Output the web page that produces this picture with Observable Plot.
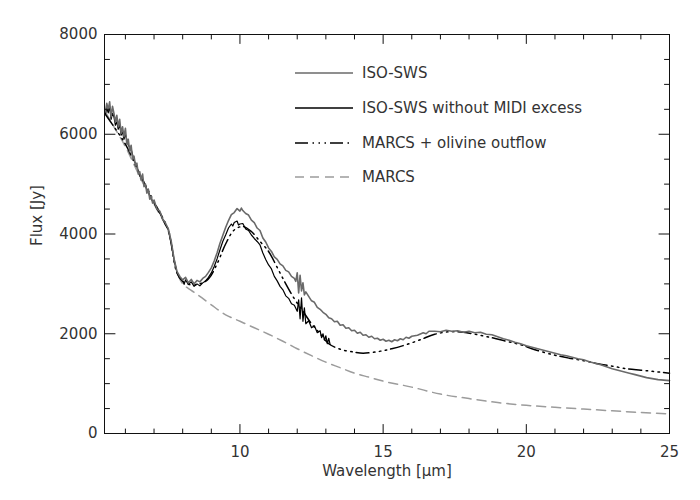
<!DOCTYPE html>
<html>
<head>
<meta charset="utf-8">
<script src="https://cdn.jsdelivr.net/npm/d3@7"></script>
<script src="https://cdn.jsdelivr.net/npm/@observablehq/plot@0.6"></script>
<style>
  body { margin: 0; background: #fff; }
  #wrap { position: relative; width: 700px; height: 500px; font-family: "DejaVu Sans", sans-serif; }
  #legend { position: absolute; left: 295px; top: 0; }
  .row { position: absolute; left: 0; height: 20px; display: flex; align-items: center; white-space: nowrap; }
  .row svg { width: 58px; height: 20px; margin-right: 9px; }
  .row span { font-size: 15px; color: #333; }
</style>
</head>
<body>
<div id="wrap"><div id="legend"></div></div>
<script>
// ISO-SWS spectrum [wavelength µm, flux Jy]
const isoSws = [
  [5.3,6450],[5.35,6620],[5.4,6500],[5.45,6650],[5.5,6350],[5.55,6560],[5.6,6420],[5.65,6250],[5.7,6380],[5.75,6150],
  [5.8,6300],[5.85,6020],[5.9,6150],[5.95,5950],[6.0,6120],[6.05,5800],[6.1,5900],[6.15,5650],[6.2,5780],[6.25,5500],
  [6.3,5560],[6.35,5380],[6.4,5420],[6.45,5200],[6.5,5250],[6.55,5080],[6.6,5200],[6.65,4950],[6.7,5000],[6.75,4820],
  [6.8,4900],[6.85,4700],[6.9,4760],[6.95,4620],[7.0,4680],[7.1,4500],[7.2,4460],[7.3,4300],[7.4,4220],[7.5,4100],
  [7.6,3850],[7.7,3500],[7.8,3250],[7.9,3150],[8.0,3080],[8.1,3130],[8.2,3020],[8.3,3090],[8.4,3000],[8.5,3070],
  [8.6,3040],[8.7,3110],[8.8,3150],[8.9,3230],[9.0,3320],[9.1,3460],[9.2,3620],[9.3,3810],[9.4,3970],[9.5,4130],
  [9.6,4270],[9.7,4390],[9.8,4430],[9.9,4510],[10.0,4460],[10.05,4520],[10.1,4470],[10.2,4410],[10.3,4380],[10.4,4280],
  [10.5,4230],[10.6,4120],[10.7,4070],[10.8,3920],[10.9,3840],[11.0,3720],[11.1,3650],[11.2,3540],[11.3,3490],[11.4,3400],
  [11.5,3360],[11.6,3270],[11.7,3240],[11.8,3150],[11.9,3110],[11.95,3050],[12.0,3220],[12.05,2820],[12.1,3170],[12.15,2860],
  [12.2,3020],[12.25,2780],[12.3,2840],[12.4,2750],[12.5,2660],[12.6,2630],[12.7,2530],[12.8,2490],[12.9,2430],[13.0,2390],
  [13.1,2320],[13.2,2300],[13.3,2240],[13.4,2250],[13.5,2170],[13.6,2180],[13.7,2110],[13.8,2120],[13.9,2060],[14.0,2070],
  [14.1,2010],[14.2,2030],[14.3,1970],[14.4,1980],[14.5,1930],[14.6,1950],[14.7,1900],[14.8,1910],[14.9,1870],[15.0,1890],
  [15.1,1850],[15.2,1870],[15.3,1840],[15.4,1880],[15.5,1860],[15.6,1900],[15.7,1880],[15.8,1930],[15.9,1910],[16.0,1950],
  [16.2,1970],[16.4,2020],[16.5,2000],[16.6,2050],[16.8,2050],[17.0,2040],[17.2,2070],[17.4,2050],[17.6,2060],[17.8,2030],
  [18.0,2050],[18.2,2020],[18.4,2030],[18.6,1990],[18.8,1980],[19.0,1940],[19.2,1900],[19.4,1870],[19.6,1830],[19.8,1800],
  [20.0,1760],[20.2,1730],[20.4,1700],[20.6,1670],[20.8,1640],[21.0,1610],[21.2,1580],[21.4,1560],[21.6,1530],[21.8,1500],
  [22.0,1480],[22.2,1440],[22.4,1410],[22.6,1380],[22.8,1340],[23.0,1300],[23.2,1270],[23.4,1240],[23.6,1210],[23.8,1180],
  [24.0,1150],[24.2,1120],[24.4,1100],[24.6,1080],[24.8,1070],[25.0,1060]
];
// ISO-SWS without MIDI excess
const isoNoMidi = [
  [5.3,6400],[5.35,6520],[5.4,6430],[5.45,6550],[5.5,6300],[5.55,6420],[5.6,6350],[5.65,6180],[5.7,6250],[5.75,6100],
  [5.8,6200],[5.85,5980],[5.9,6050],[5.95,5900],[6.0,6000],[6.1,5780],[6.2,5700],[6.3,5480],[6.4,5350],[6.5,5160],
  [6.6,5100],[6.7,4950],[6.8,4850],[6.9,4700],[7.0,4620],[7.1,4500],[7.2,4420],[7.3,4300],[7.4,4180],[7.5,4080],
  [7.6,3820],[7.7,3480],[7.8,3230],[7.9,3120],[8.0,3060],[8.05,2990],[8.1,3080],[8.2,2990],[8.3,3040],[8.4,2950],
  [8.5,3000],[8.6,2960],[8.7,3020],[8.8,3060],[8.9,3130],[9.0,3220],[9.1,3350],[9.2,3500],[9.3,3680],[9.4,3850],
  [9.5,3980],[9.6,4120],[9.7,4200],[9.75,4160],[9.8,4230],[9.9,4260],[9.95,4180],[10.0,4200],[10.1,4210],[10.2,4100],
  [10.3,4070],[10.4,3980],[10.5,3910],[10.6,3850],[10.7,3780],[10.8,3620],[10.9,3490],[11.0,3380],[11.1,3300],[11.2,3150],
  [11.3,3060],[11.4,2950],[11.5,2880],[11.6,2760],[11.7,2710],[11.8,2600],[11.9,2570],[12.0,2450],[12.05,2680],[12.1,2300],
  [12.15,2720],[12.2,2250],[12.25,2520],[12.3,2200],[12.4,2260],[12.5,2120],[12.6,2160],[12.7,2020],[12.8,2060],[12.85,1920],
  [12.9,2000],[12.95,1870],[13.0,1960],[13.05,1800],[13.1,1910],[13.15,1780]
];
// MARCS + olivine outflow model
const marcsOlivine = [
  [5.3,6400],[5.6,6150],[6.0,5800],[6.5,5200],[7.0,4650],[7.5,4080],[7.6,3800],[7.8,3220],[8.0,3050],[8.3,2980],
  [8.6,3000],[8.9,3100],[9.2,3400],[9.5,3800],[9.8,4080],[10.1,4150],[10.4,4050],[10.7,3850],[11.0,3650],[11.3,3330],
  [11.6,3000],[11.9,2700],[12.2,2450],[12.5,2200],[12.8,2000],[13.1,1800],[13.5,1690],[14.0,1630],[14.3,1610],[14.8,1640],
  [15.3,1700],[15.8,1780],[16.3,1880],[16.8,1990],[17.3,2040],[17.8,2030],[18.3,1980],[18.8,1920],[19.3,1850],[19.8,1780],
  [20.3,1680],[21.0,1570],[21.5,1510],[22.0,1460],[22.5,1400],[23.0,1350],[23.5,1300],[24.0,1270],[24.5,1240],[25.0,1210]
];
// MARCS photosphere model
const marcs = [
  [5.3,6450],[5.6,6150],[6.0,5750],[6.5,5150],[7.0,4600],[7.5,4050],[7.6,3800],[7.8,3250],[8.0,3000],[8.3,2870],
  [8.6,2750],[9.0,2580],[9.5,2380],[10.0,2250],[10.5,2120],[11.0,1990],[11.5,1850],[12.0,1700],[12.5,1560],[13.0,1430],
  [13.5,1320],[14.0,1210],[14.5,1130],[15.0,1050],[16.0,930],[17.0,790],[18.0,700],[19.0,620],[20.0,565],[21.0,525],
  [22.0,490],[23.0,455],[24.0,420],[25.0,395]
];

const xMajor = [10, 15, 20, 25];
const xMinor = [6, 7, 8, 9, 11, 12, 13, 14, 16, 17, 18, 19, 21, 22, 23, 24];
const yMajor = [0, 2000, 4000, 6000, 8000];
const yMinor = [500, 1000, 1500, 2500, 3000, 3500, 4500, 5000, 5500, 6500, 7000, 7500];
const xDomain = [5.27, 25];
const yDomain = [0, 8000];

const legendItems = [
  {label: "ISO-SWS", stroke: "#6a6a6a", dash: null, width: 1.4},
  {label: "ISO-SWS without MIDI excess", stroke: "#000", dash: null, width: 1.4},
  {label: "MARCS + olivine outflow", stroke: "#000", dash: "13,4.5,1.5,4.5,1.5,4.5,1.5,4", width: 1.5},
  {label: "MARCS", stroke: "#9c9c9c", dash: "9,6", width: 1.5}
];

// straight tick shape for vector marks (drawn from the anchor point inward)
const tickShape = {draw(context, l) { context.moveTo(0, 0); context.lineTo(0, -l); }};
const tick = (data, ch, frameAnchor, rotate, length) =>
  Plot.vector(data, {[ch]: d => d, frameAnchor, rotate, length, anchor: "start", shape: tickShape, stroke: "#111", strokeWidth: 1});

const chart = Plot.plot({
  width: 700,
  height: 500,
  marginLeft: 104,
  marginRight: 31,
  marginTop: 34,
  marginBottom: 67,
  style: {fontFamily: "DejaVu Sans, sans-serif", fontSize: "15px", color: "#333", background: "#fff"},
  x: {domain: xDomain},
  y: {domain: yDomain},
  marks: [
    Plot.line(marcs, {x: d => d[0], y: d => d[1], stroke: "#9c9c9c", strokeWidth: 1.5, strokeDasharray: "9,6", curve: "catmull-rom"}),
    Plot.line(isoNoMidi, {x: d => d[0], y: d => d[1], stroke: "#000", strokeWidth: 1.2}),
    Plot.line(marcsOlivine, {x: d => d[0], y: d => d[1], stroke: "#000", strokeWidth: 1.5, strokeDasharray: "13,4.5,1.5,4.5,1.5,4.5,1.5,4", curve: "catmull-rom"}),
    Plot.line(isoSws, {x: d => d[0], y: d => d[1], stroke: "#6a6a6a", strokeWidth: 1.6}),
    Plot.frame({stroke: "#111", strokeWidth: 1}),
    tick(xMajor, "x", "bottom", 0, 9),
    tick(xMinor, "x", "bottom", 0, 4.5),
    tick(xMajor, "x", "top", 180, 9),
    tick(xMinor, "x", "top", 180, 4.5),
    tick(yMajor, "y", "left", 90, 10.5),
    tick(yMinor, "y", "left", 90, 5),
    tick(yMajor, "y", "right", -90, 10.5),
    tick(yMinor, "y", "right", -90, 5),
    Plot.axisX({anchor: "bottom", ticks: xMajor, tickSize: 0, tickPadding: 13, label: null, fontSize: 15}),
    Plot.axisY({anchor: "left", ticks: yMajor, tickSize: 0, tickPadding: 7, tickFormat: d3.format("d"), label: null, fontSize: 15}),
    Plot.text(["Wavelength [μm]"], {frameAnchor: "bottom", dy: 42, fontSize: 15, fill: "#333"}),
    Plot.text(["Flux [Jy]"], {frameAnchor: "left", dx: -67, dy: 12, rotate: -90, fontSize: 15, fill: "#333"})
  ]
});
document.getElementById("wrap").prepend(chart);

const legend = document.getElementById("legend");
const rowTops = [63, 98, 133, 167];
legendItems.forEach((it, i) => {
  const row = document.createElement("div");
  row.className = "row";
  row.style.top = rowTops[i] + "px";
  const svg = d3.create("svg").attr("viewBox", "0 0 58 20");
  svg.append("line").attr("x1", 0).attr("x2", 58).attr("y1", 10).attr("y2", 10)
    .attr("stroke", it.stroke).attr("stroke-width", it.width).attr("stroke-dasharray", it.dash);
  row.appendChild(svg.node());
  const span = document.createElement("span");
  span.textContent = it.label;
  row.appendChild(span);
  legend.appendChild(row);
});
</script>
</body>
</html>
